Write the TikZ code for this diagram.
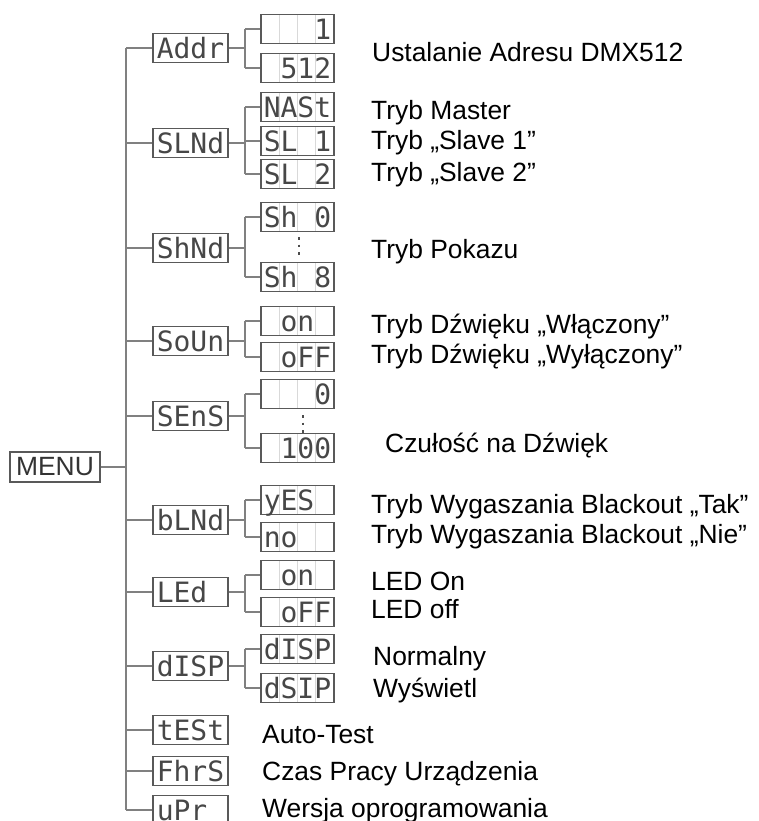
\documentclass[tikz,border=0pt]{standalone}
\usepackage{fontspec}
\setmainfont{Liberation Sans}
\newfontfamily\dispfont{DejaVu Sans Mono}
\usetikzlibrary{calc}
\newcommand{\ds}[1]{\makebox[67.5pt][l]{#1}}
\tikzset{
  conn/.style={draw=gray, line width=1.6pt},
  dispA/.style={draw=black!65, line width=1.3pt, minimum width=75pt, minimum height=29pt,
    inner sep=0pt, font=\dispfont\fontsize{28}{28}\selectfont, text=black!72,
    text height=20.5pt, text depth=0pt},
  dispB/.style={dispA, minimum width=73pt,
    path picture={\foreach \i in {1,2,3}{\draw[black!15, line width=0.8pt]
      ($(path picture bounding box.north west)!\i/4!(path picture bounding box.north east)$) --
      ($(path picture bounding box.south west)!\i/4!(path picture bounding box.south east)$);}}},
  menubox/.style={draw=black!65, line width=1.3pt, minimum width=90pt, minimum height=30pt,
    inner sep=0pt, text=black!80, font=\fontsize{26.4}{30}\selectfont},
  lbl/.style={anchor=base west, inner sep=0pt, text=black, font=\fontsize{26.4}{30}\selectfont},
  vdot/.style={draw=black!70, line width=2.2pt, dash pattern=on 2.5pt off 5pt}
}
\begin{document}
\begin{tikzpicture}[x=1pt,y=-1pt]
\useasboundingbox (0,0) rectangle (758,821);
\coordinate (tr) at (126,0);
\coordinate (br) at (245,0);
% MENU
\node[menubox] (menu) at (55,467) {MENU};
% level 1
\node[dispA] (addr) at (190.5,48)  {\ds{Addr}};
\node[dispA] (slnd) at (190.5,143) {\ds{SLNd}};
\node[dispA] (shnd) at (190.5,248) {\ds{ShNd}};
\node[dispA] (soun) at (190.5,341) {\ds{SoUn}};
\node[dispA] (sens) at (190.5,416) {\ds{SEnS}};
\node[dispA] (blnd) at (190.5,520) {\ds{bLNd}};
\node[dispA] (led)  at (190.5,592) {\ds{LEd}};
\node[dispA] (disp) at (190.5,666) {\ds{dISP}};
\node[dispA] (test) at (190.5,730) {\ds{tESt}};
\node[dispA] (fhrs) at (190.5,771) {\ds{FhrS}};
\node[dispA] (upr)  at (190.5,810) {\ds{uPr}};
% level 2
\node[dispB] (a1) at (297.5,29)  {\ds{~~~1}};
\node[dispB] (a2) at (297.5,68)  {\ds{~512}};
\node[dispB] (s1) at (297.5,107) {\ds{NASt}};
\node[dispB] (s2) at (297.5,141) {\ds{SL~1}};
\node[dispB] (s3) at (297.5,174) {\ds{SL~2}};
\node[dispB] (h1) at (297.5,217) {\ds{Sh~0}};
\node[dispB] (h2) at (297.5,277) {\ds{Sh~8}};
\node[dispB] (o1) at (297.5,321) {\ds{~on}};
\node[dispB] (o2) at (297.5,357) {\ds{~oFF}};
\node[dispB] (e1) at (297.5,394) {\ds{~~~0}};
\node[dispB] (e2) at (297.5,448) {\ds{~100}};
\node[dispB] (b1) at (297.5,500) {\ds{yES}};
\node[dispB] (b2) at (297.5,537) {\ds{no}};
\node[dispB] (l1) at (297.5,575) {\ds{~on}};
\node[dispB] (l2) at (297.5,612) {\ds{~oFF}};
\node[dispB] (d1) at (297.5,649) {\ds{dISP}};
\node[dispB] (d2) at (297.5,688) {\ds{dSIP}};
\coordinate (hdt) at (299,237);
\coordinate (hdb) at (299,258);
\coordinate (edt) at (303,415);
\coordinate (edb) at (303,434);
\draw[vdot] (hdt) -- (hdb);
\draw[vdot] (edt) -- (edb);
% connectors
\draw[conn] (menu.east) -- (menu.east -| tr);
\draw[conn] (addr.west -| tr) -- (upr.west -| tr);
\foreach \n in {addr,slnd,shnd,soun,sens,blnd,led,disp,test,fhrs,upr}
  \draw[conn] (\n.west -| tr) -- (\n.west);
\foreach \p/\f/\l in {addr/a1/a2, slnd/s1/s3, shnd/h1/h2, soun/o1/o2, sens/e1/e2, blnd/b1/b2, led/l1/l2, disp/d1/d2}{
  \draw[conn] (\p.east) -- (\p.east -| br);
  \draw[conn] (\f.west -| br) -- (\l.west -| br);
}
\foreach \c in {a1,a2,s1,s2,s3,h1,h2,o1,o2,e1,e2,b1,b2,l1,l2,d1,d2}
  \draw[conn] (\c.west -| br) -- (\c.west);
% labels
\node[lbl] (t1)  at (372,62)  {Ustalanie Adresu DMX512};
\node[lbl] (t2)  at (371,120) {Tryb Master};
\node[lbl] (t3)  at (371,150) {Tryb „Slave 1”};
\node[lbl] (t4)  at (371,182) {Tryb „Slave 2”};
\node[lbl] (t5)  at (371,258) {Tryb Pokazu};
\node[lbl] (t6)  at (371,333) {Tryb Dźwięku „Włączony”};
\node[lbl] (t7)  at (371,363) {Tryb Dźwięku „Wyłączony”};
\node[lbl] (t8)  at (385,452) {Czułość na Dźwięk};
\node[lbl] (t9)  at (371,513) {Tryb Wygaszania Blackout „Tak”};
\node[lbl] (t10) at (371,543) {Tryb Wygaszania Blackout „Nie”};
\node[lbl] (t11) at (371,590) {LED On};
\node[lbl] (t12) at (371,618) {LED off};
\node[lbl] (t13) at (373,665) {Normalny};
\node[lbl] (t14) at (373,697) {Wyświetl};
\node[lbl] (t15) at (262,743) {Auto-Test};
\node[lbl] (t16) at (262,780) {Czas Pracy Urządzenia};
\node[lbl] (t17) at (262,817) {Wersja oprogramowania};
\end{tikzpicture}
\end{document}
